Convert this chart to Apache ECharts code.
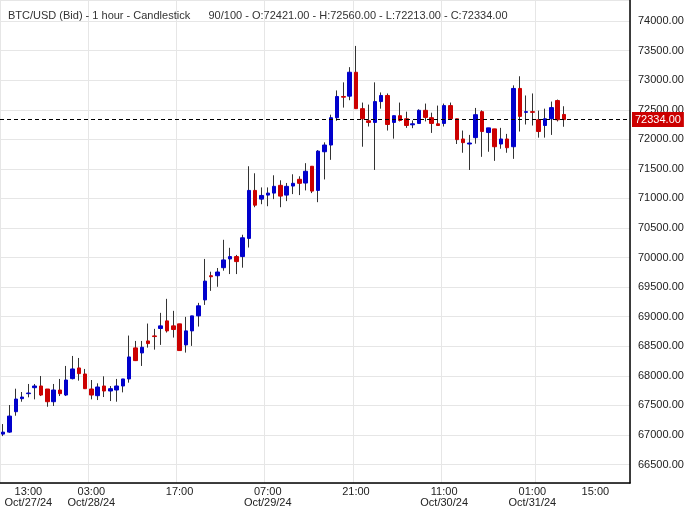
<!DOCTYPE html>
<html>
<head>
<meta charset="utf-8">
<script src="https://cdn.jsdelivr.net/npm/echarts@6/dist/echarts.min.js"></script>
<style>
    html, body { margin: 0; padding: 0; background: #fff; }
    #chart { width: 688px; height: 509px; }
</style>
</head>
<body>
<div id="chart"></div>
<script>
    // OHLC, one hourly candle each
    var opens  = [67014,67048,67393,67613,67698,67799,67828,67777,67562,67760,67675,67952,68133,68031,67777,67664,67828,67743,67760,67828,
                  67947,68472,68387,68590,68675,68800,68929,68845,68879,68523,68760,69014,69284,69693,69693,69829,69977,70017,70017,70324,
                  71136,70989,71057,71091,71222,71057,71210,71324,71261,71545,71136,71790,71904,72366,72725,72730,73135,72519,72314,72286,
                  72639,72742,72286,72400,72348,72246,72269,72491,72366,72263,72269,72571,72348,72006,71921,72029,72468,72115,72177,71921,
                  72006,71875,72861,72457,72468,72331,72234,72348,72656,72421];
    var closes = [67048,67319,67607,67641,67709,67828,67675,67562,67760,67698,67929,68116,68037,67782,67675,67811,67743,67782,67828,67947,
                  68319,68257,68483,68545,68664,68845,68760,68783,68427,68760,69014,69184,69602,69676,69756,69960,70017,69932,70335,71136,
                  70886,71051,71091,71205,71040,71205,71256,71256,71460,71125,71801,71904,72366,72725,72713,73135,72519,72348,72286,72639,
                  72742,72251,72400,72320,72234,72263,72491,72371,72269,72234,72571,72348,71995,71944,71938,72417,72132,72194,71875,72006,
                  71858,72861,72388,72468,72457,72132,72348,72537,72331,72334];
    var lows   = [66980,67037,67325,67562,67636,67602,67658,67477,67489,67658,67658,67940,67918,67782,67602,67590,67641,67573,67562,67720,
                  67884,68250,68167,68477,68443,68523,68732,68647,68427,68393,68506,68833,69199,69437,69506,69778,69721,69721,69829,70170,
                  70852,70903,70869,70989,70852,70955,71074,71057,71136,71091,70937,71322,71653,72314,72537,72662,72519,71875,72217,71482,
                  72519,72149,72012,72303,72194,72189,72269,72303,72109,72234,72217,72348,71921,71773,71482,71927,71704,71790,71636,71841,
                  71773,71670,72132,72251,72234,72029,72029,72075,72303,72213];
    var highs  = [67184,67506,67782,67726,67862,67862,67997,67777,67862,67947,68167,68336,68302,68116,67929,67873,67992,67828,67947,67947,
                  68681,68590,68590,68884,68794,69065,69302,69099,68879,68997,69014,69234,69977,69761,69824,70301,70165,70045,70386,71545,
                  71426,71187,71187,71392,71307,71262,71409,71375,71597,71545,71818,71949,72417,72827,72964,73221,73580,72622,72588,72964,
                  72793,72776,72400,72622,72468,72320,72508,72605,72451,72571,72605,72622,72348,72149,72075,72531,72491,72194,72177,72194,
                  72092,72913,73067,72742,72776,72485,72519,72639,72673,72560];
    var slotCount = 100;
    var tickIdx    = [4, 14, 28, 42, 56, 70, 84, 94];
    var tickLabels = ['13:00\nOct/27/24', '03:00\nOct/28/24', '17:00', '07:00\nOct/29/24', '21:00',
                      '11:00\nOct/30/24', '01:00\nOct/31/24', '15:00'];
    var gridIdx = [0, 14, 28, 42, 56, 70, 85];
    var lastClose = 72334;

    var cats = [], labelOf = {};
    for (var i = 0; i < slotCount; i++) cats.push(String(i));
    tickIdx.forEach(function (k, j) { labelOf[k] = tickLabels[j]; });

    var wicks = [], bodies = [];
    for (var i = 0; i < opens.length; i++) {
        wicks.push([opens[i], closes[i], lows[i], highs[i]]);
        bodies.push([opens[i], closes[i], Math.min(opens[i], closes[i]), Math.max(opens[i], closes[i])]);
    }

    var chart = echarts.init(document.getElementById('chart'));
    chart.setOption({
        animation: false,
        title: {
            text: 'BTC/USD (Bid) - 1 hour - Candlestick      90/100 - O:72421.00 - H:72560.00 - L:72213.00 - C:72334.00',
            left: 3, top: 5,
            textStyle: { fontFamily: 'Liberation Sans', fontSize: 11, fontWeight: 'normal', color: '#333' }
        },
        grid: { left: 0, right: 58, top: 0, bottom: 26 },
        xAxis: {
            type: 'category', data: cats, boundaryGap: true,
            axisLine: { lineStyle: { color: '#000', width: 1.5 } },
            axisTick: { show: false },
            axisLabel: {
                interval: 0, fontFamily: 'Liberation Sans', fontSize: 11, color: '#222', lineHeight: 11, margin: 3,
                formatter: function (v, idx) { return labelOf[idx] || ''; }
            },
            splitLine: {
                show: true,
                interval: function (idx) { return gridIdx.indexOf(idx) >= 0; },
                lineStyle: { color: '#e6e6e6' }
            }
        },
        yAxis: {
            type: 'value', position: 'right', min: 66187, max: 74357, splitNumber: 16, scale: true,
            axisLine: { show: true, lineStyle: { color: '#000', width: 1.5 } },
            axisTick: { show: false },
            axisLabel: {
                fontFamily: 'Liberation Sans', fontSize: 11, color: '#222', margin: 8,
                formatter: function (v) { return v % 500 === 0 ? v.toFixed(2) : ''; }
            },
            splitLine: { lineStyle: { color: '#e6e6e6' } }
        },
        series: [{
            type: 'candlestick', data: wicks, barWidth: 1, z: 2,
            itemStyle: { color: '#333', color0: '#333', borderColor: '#333', borderColor0: '#333', borderWidth: 1 },
            markLine: {
                symbol: 'none', silent: true,
                lineStyle: { color: '#000', type: [4, 3], width: 1 },
                label: {
                    position: 'end', formatter: lastClose.toFixed(2), distance: 2,
                    backgroundColor: '#cc0000', color: '#fff', padding: [2, 3],
                    fontFamily: 'Liberation Sans', fontSize: 11
                },
                data: [{ yAxis: lastClose }]
            }
        }, {
            type: 'candlestick', data: bodies, barWidth: 4, z: 3,
            itemStyle: { color: '#0000cc', color0: '#cc0000', borderColor: '#0000cc', borderColor0: '#cc0000', borderWidth: 1 }
        }]
    });
</script>
</body>
</html>
